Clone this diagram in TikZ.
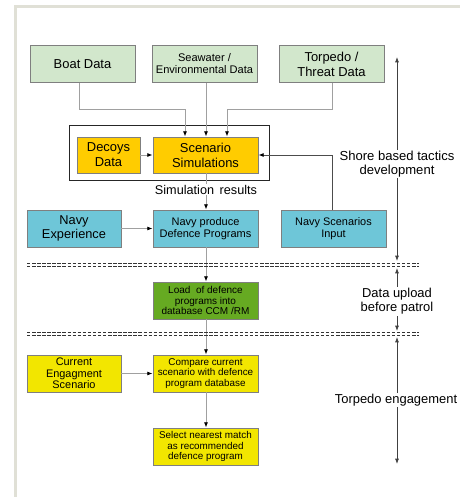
\documentclass[tikz,border=0pt]{standalone}
\usepackage{fontspec}
\setmainfont{Liberation Sans}
\usetikzlibrary{arrows.meta}
\definecolor{frameC}{HTML}{E0E0D6}
\definecolor{dataG}{HTML}{D2E7CC}
\definecolor{orangeC}{HTML}{FFCC00}
\definecolor{blueC}{HTML}{6EC6D8}
\definecolor{loadG}{HTML}{66AA22}
\definecolor{yellowC}{HTML}{F2E600}
\definecolor{boxB}{HTML}{7F7F7F}
\definecolor{lineC}{HTML}{A0A0A0}
\tikzset{
  box/.style={draw=boxB, line width=0.6pt, align=center, inner sep=1pt,
    minimum width=78.75pt, minimum height=27.75pt},
  wide/.style={minimum width=70.5pt},
  narrow/.style={minimum width=47.25pt, minimum height=27pt},
  conn/.style={draw=lineC, line width=0.6pt},
  tip/.style={-{Latex[length=4pt,width=3pt,color=black]}},
  side/.style={draw=black!75, line width=0.6pt},
  sidetip/.style={{Latex[length=4pt,width=3pt]}-{Latex[length=4pt,width=3pt]}},
  dline/.style={draw=black!80, line width=0.6pt, dash pattern=on 2.6pt off 1.2pt},
  big/.style={font=\fontsize{9.7}{11.3}\selectfont},
  med/.style={font=\fontsize{8.3}{9}\selectfont},
  small/.style={font=\fontsize{7.4}{7.9}\selectfont},
  lbl/.style={fill=white, inner sep=1pt, align=center}
}
\begin{document}
\begin{tikzpicture}[x=0.75pt, y=-0.75pt]
\useasboundingbox (0,0) rectangle (460,497);
% frame
\draw[frameC, line width=1.6pt] (460,6.5) -- (15.5,6.5) -- (15.5,497);
% top data boxes
\node[box, fill=dataG, big] (boat) at (82.5,64) {Boat Data};
\node[box, fill=dataG, med] (sea) at (204.5,64) {Seawater /\\Environmental Data};
\node[box, fill=dataG, big] (torp) at (331.5,64) {Torpedo /\\Threat Data};
% scenario group
\draw[black!85, line width=0.7pt] (69,125) rectangle (269,180);
\node[box, narrow, fill=orangeC, big] (decoy) at (108.5,155) {Decoys\\Data};
\node[box, fill=orangeC, big, minimum height=27pt] (scen) at (205.5,155) {Scenario\\Simulations};
% blue row
\node[box, wide, fill=blueC, font=\fontsize{9.6}{10.5}\selectfont] (navyexp) at (74,228.5) {Navy\\Experience};
\node[box, fill=blueC, font=\fontsize{8.25}{8.9}\selectfont] (navyprod) at (205.5,228.5) {Navy produce\\Defence Programs};
\node[box, fill=blueC, font=\fontsize{8.2}{8.9}\selectfont] (navyscen) at (333.5,229) {Navy Scenarios\\Input};
% load
\node[box, fill=loadG, font=\fontsize{7.5}{8.1}\selectfont] (load) at (205.5,300.5) {Load \ of defence\\programs into\\database CCM /RM};
% yellow
\node[box, wide, fill=yellowC, font=\fontsize{8.2}{8.7}\selectfont] (cur) at (74,373.5) {Current\\Engagment\\Scenario};
\node[box, fill=yellowC, small] (cmp) at (205.5,373.5) {Compare current\\scenario with defence\\program database};
\node[box, fill=yellowC, font=\fontsize{7.4}{7.75}\selectfont] (sel) at (205.5,446.5) {Select nearest match\\as recommended\\defence program};
% connectors from data boxes
\coordinate (bj) at (79,109);
\coordinate (tj) at (332,109);
\draw[conn, tip] (boat.south -| bj) -- (bj) -- (185,109) -- (scen.north -| 185,0);
\draw[conn, tip] (sea.south -| 206,0) -- (scen.north -| 206,0);
\draw[conn, tip] (torp.south -| tj) -- (tj) -- (227,109) -- (scen.north -| 227,0);
\draw[conn, tip] (decoy.east) -- (scen.west);
% main flow
\draw[conn, tip] (scen.south -| 206,0) -- (navyprod.north -| 206,0);
\node[lbl, font=\fontsize{9.5}{11}\selectfont] (simres) at (206,189.5) {Simulation \,results};
\draw[conn, tip] (navyexp.east) -- (navyprod.west);
\draw[conn, tip] (navyprod.south -| 206,0) -- (load.north -| 206,0);
\draw[conn, tip] (load.south -| 206,0) -- (cmp.north -| 206,0);
\draw[conn, tip] (cur.east) -- (cmp.west);
\draw[conn, tip] (cmp.south -| 206,0) -- (sel.north -| 206,0);
% dashed double lines
\draw[dline] (27,263) -- (419,263);
\draw[dline] (27,266.5) -- (419,266.5);
\draw[dline] (27,332) -- (419,332);
\draw[dline] (27,335.5) -- (419,335.5);
% right side phase arrows
\coordinate (s1) at (397,57);
\coordinate (s2) at (397,261);
\coordinate (d1) at (397,268);
\coordinate (d2) at (397,331);
\coordinate (e1) at (397,337);
\coordinate (e2) at (397,464);
\draw[side, sidetip] (s1) -- (s2);
\draw[side, sidetip] (d1) -- (d2);
\draw[side, sidetip] (e1) -- (e2);
\node[lbl, font=\fontsize{9.8}{10.6}\selectfont] (shore) at (397,164) {Shore based tactics\\development};
\node[lbl, font=\fontsize{9.7}{10.7}\selectfont] (upload) at (397,301.5) {Data upload\\before patrol};
\node[lbl, big] (teng) at (396,400) {Torpedo engagement};
% navy scenarios feedback (drawn over labels)
\draw[draw=black!70, line width=0.6pt, tip] (navyscen.north -| 332,0) |- (scen.east);
\end{tikzpicture}
\end{document}
